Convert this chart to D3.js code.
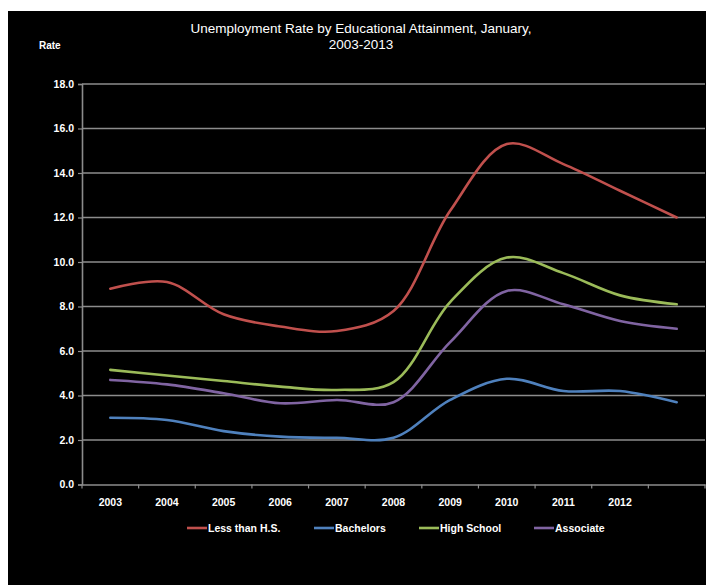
<!DOCTYPE html>
<html><head><meta charset="utf-8">
<script src="https://cdn.jsdelivr.net/npm/d3@7"></script>
<style>
html,body{margin:0;padding:0;background:#fff;}
svg{display:block;font-family:"Liberation Sans",Arial,sans-serif;}
</style></head>
<body><svg id="c" width="706" height="585"></svg>
<script>
const years = ["2003","2004","2005","2006","2007","2008","2009","2010","2011","2012","2013"];
const tickLabels = ["2003","2004","2005","2006","2007","2008","2009","2010","2011","2012",""];
const yTicks = [0,2,4,6,8,10,12,14,16,18];
const seriesNames = ["Less than H.S.","Bachelors","High School","Associate"];
const lessHS     = [8.8, 9.1, 7.65, 7.1, 6.9, 7.8, 12.3, 15.3, 14.4, 13.2, 12.0];
const bachelors  = [3.0, 2.9, 2.4, 2.15, 2.1, 2.1, 3.8, 4.75, 4.2, 4.2, 3.7];
const highSchool = [5.15, 4.9, 4.65, 4.4, 4.25, 4.6, 8.2, 10.2, 9.5, 8.5, 8.1];
const associate  = [4.7, 4.5, 4.1, 3.65, 3.8, 3.7, 6.4, 8.7, 8.1, 7.35, 7.0];
const colors = ["#C0504D","#4F81BD","#9BBB59","#8064A2"];
const title = ["Unemployment Rate by Educational Attainment, January,","2003-2013"];

const svg = d3.select("#c");
svg.append("rect").attr("x",8).attr("y",11).attr("width",698).attr("height",574).attr("fill","#000");

const L=82, R=705, T=84, B=484.5;
const x = d3.scaleBand().domain(years).range([L,R]).padding(0);
const y = d3.scaleLinear().domain([0,18]).range([B,T]);

// gridlines
svg.append("g").selectAll("line").data(yTicks.filter(d=>d>0)).join("line")
  .attr("x1",L).attr("x2",R).attr("y1",d=>y(d)).attr("y2",d=>y(d))
  .attr("stroke","#8c8c8c").attr("stroke-width",1.6);

// y axis
const ya = svg.append("g").attr("transform",`translate(${L},0)`)
  .call(d3.axisLeft(y).tickValues(yTicks).tickFormat(d3.format(".1f")).tickSize(4).tickPadding(4));
ya.select(".domain").attr("stroke","#8c8c8c").attr("stroke-width",1.6);
ya.selectAll(".tick line").attr("stroke","#8c8c8c").attr("stroke-width",1.2);
ya.selectAll("text").attr("fill","#fff").attr("font-size","10.5px").attr("font-weight","bold")
  .attr("font-family","'Liberation Sans',Arial,sans-serif");

// x axis
const xa = svg.append("g").attr("transform",`translate(0,${B})`)
  .call(d3.axisBottom(x).tickFormat((d,i)=>tickLabels[i]).tickSize(0).tickPadding(14));
xa.select(".domain").attr("stroke","#8c8c8c").attr("stroke-width",1.6);
xa.selectAll("text").attr("fill","#fff").attr("font-size","10.5px").attr("font-weight","bold")
  .attr("font-family","'Liberation Sans',Arial,sans-serif");
// boundary ticks
const bounds = years.map(d=>x(d)).concat([x(years[years.length-1])+x.bandwidth()]);
svg.append("g").selectAll("line").data(bounds).join("line")
  .attr("x1",d=>d).attr("x2",d=>d).attr("y1",B).attr("y2",B+4)
  .attr("stroke","#8c8c8c").attr("stroke-width",1.2);

// lines
const allSeries = [lessHS,bachelors,highSchool,associate];
const line = d3.line().x((d,i)=>x(years[i])+x.bandwidth()/2).y(d=>y(d)).curve(d3.curveCatmullRom.alpha(0.5));
svg.append("g").selectAll("path").data(allSeries).join("path")
  .attr("d",d=>line(d)).attr("fill","none").attr("stroke",(d,i)=>colors[i]).attr("stroke-width",2.6)
  .attr("stroke-linecap","round");

// title
svg.append("text").attr("x",361).attr("y",33).attr("text-anchor","middle").attr("fill","#fff")
  .attr("font-size","13.5px").text(title[0]);
svg.append("text").attr("x",361).attr("y",49).attr("text-anchor","middle").attr("fill","#fff")
  .attr("font-size","13.5px").text(title[1]);
svg.append("text").attr("x",39).attr("y",49).attr("fill","#fff").attr("font-size","10px")
  .attr("font-weight","bold").text("Rate");

// legend
const legX = [187,314,419,534];
const lg = svg.append("g").selectAll("g").data(seriesNames).join("g")
  .attr("transform",(d,i)=>`translate(${legX[i]},528)`);
lg.append("line").attr("x1",0).attr("x2",20).attr("y1",0).attr("y2",0)
  .attr("stroke",(d,i)=>colors[i]).attr("stroke-width",2.6);
lg.append("text").attr("x",21).attr("y",4).attr("fill","#fff").attr("font-size","10.5px")
  .attr("font-weight","bold").text(d=>d);
</script></body></html>
